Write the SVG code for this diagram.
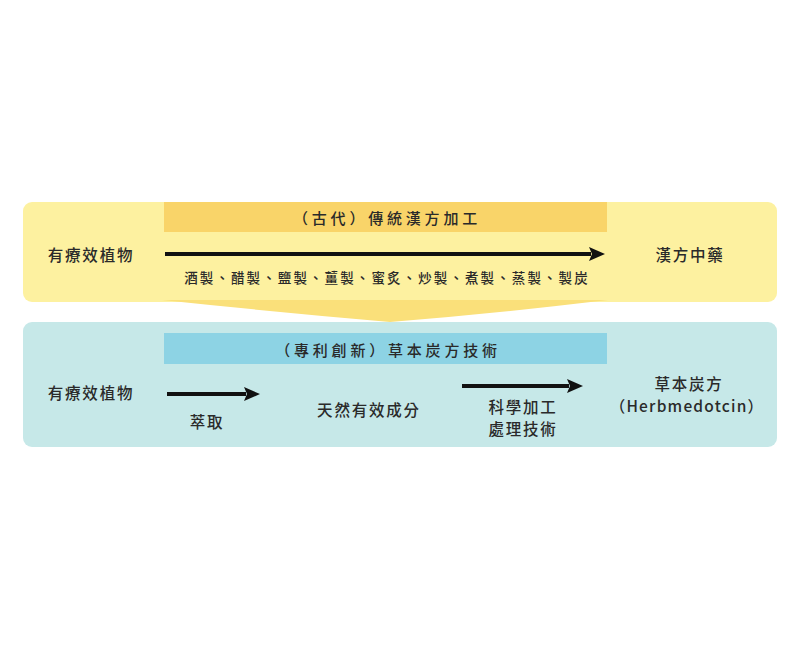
<svg xmlns="http://www.w3.org/2000/svg" width="800" height="650" viewBox="0 0 800 650">
<defs>
<marker id="ah" markerWidth="16" markerHeight="14" refX="2" refY="7" orient="auto" markerUnits="userSpaceOnUse" viewBox="0 0 16 14">
<path d="M0,0 L16,7 L0,14 L3,7 Z" fill="#111"/>
</marker>
<style>
text{font-family:"Noto Sans CJK TC","Noto Sans CJK SC",sans-serif;fill:#2a2a2a;text-anchor:middle;dominant-baseline:central;font-weight:500}
.lbl{font-size:15.5px;letter-spacing:1.8px}
.hd{font-size:15px;letter-spacing:3.8px}
.sm{font-size:13.5px;letter-spacing:2.1px}
.ln{stroke:#111;stroke-width:4;fill:none}
</style>
</defs>
<rect width="800" height="650" fill="#fff"/>
<g id="stage-traditional">
<rect x="23" y="202" width="754" height="100" rx="9" fill="#fdf1a0"/>
<path d="M162,300 L608,300 Q500,313 390,322 Q275,312 162,300 Z" fill="#fae07a"/>
<rect x="164" y="202" width="443" height="30" fill="#f9d469"/>
<text class="hd" x="387" y="217">（古代）傳統漢方加工</text>
</g>
<g id="stage-patent">
<rect x="23" y="322" width="754" height="125" rx="9" fill="#c6e8e8"/>
<rect x="164" y="333" width="443" height="31" fill="#8dd3e4"/>
<text class="hd" x="388" y="349">（專利創新）草本炭方技術</text>
</g>
<g id="n-plant1"><text class="lbl" x="91" y="254">有療效植物</text></g>
<g id="n-kampo"><text class="lbl" x="690" y="254">漢方中藥</text></g>
<g id="n-methods"><text class="sm" x="387" y="277">酒製、醋製、鹽製、薑製、蜜炙、炒製、煮製、蒸製、製炭</text></g>
<g id="n-plant2"><text class="lbl" x="91" y="392">有療效植物</text></g>
<g id="n-extract"><text class="lbl" x="207" y="421">萃取</text></g>
<g id="n-active"><text class="lbl" x="369" y="409">天然有效成分</text></g>
<g id="n-process"><text class="lbl" x="523" y="406">科學加工</text><text class="lbl" x="523" y="428">處理技術</text></g>
<g id="n-herb"><text class="lbl" x="689" y="383">草本炭方</text><text class="lbl" x="687" y="405" style="letter-spacing:1.2px">（Herbmedotcin）</text></g>
<g id="connectors">
<line class="ln" x1="165" y1="254" x2="591" y2="254" marker-end="url(#ah)"/>
<line class="ln" x1="167" y1="394" x2="246" y2="394" marker-end="url(#ah)"/>
<line class="ln" x1="462" y1="386" x2="569" y2="386" marker-end="url(#ah)"/>
</g>
</svg>
